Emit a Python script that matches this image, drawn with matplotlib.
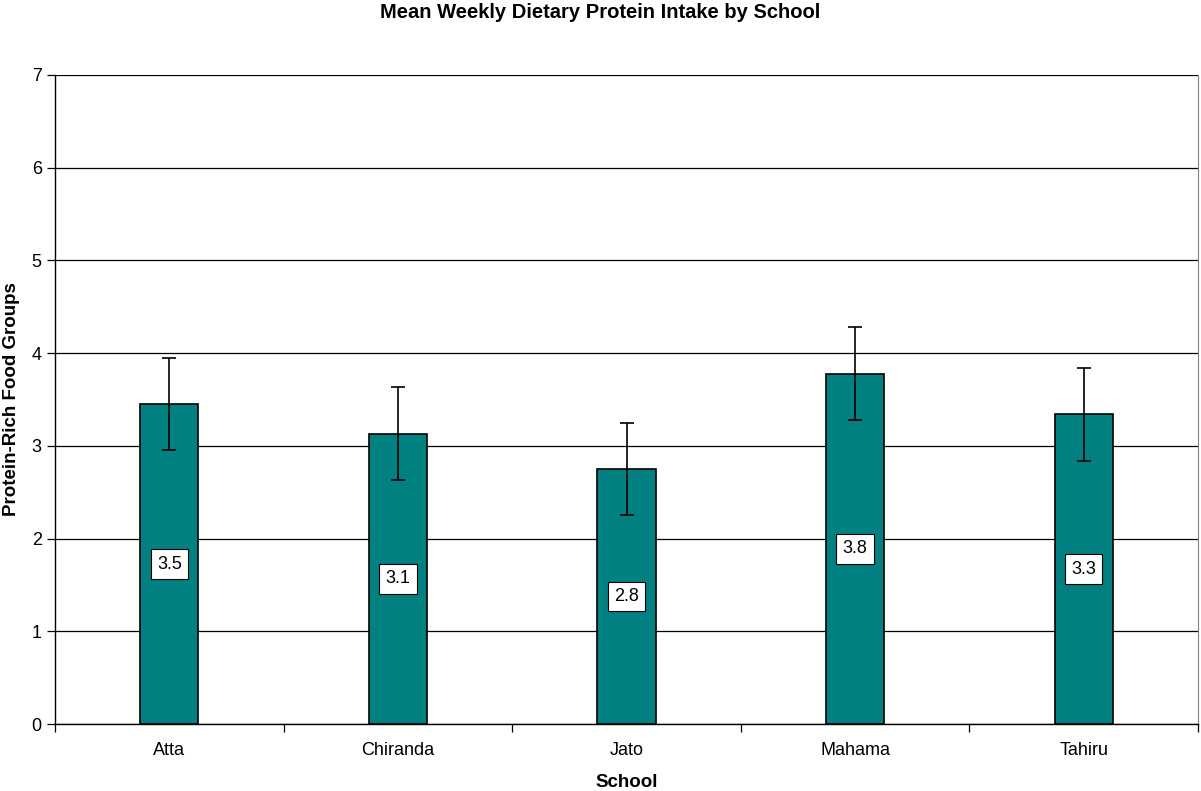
import numpy as np
import matplotlib.pyplot as plt

schools = ['Atta', 'Chiranda', 'Jato', 'Mahama', 'Tahiru']
means = [3.45, 3.13, 2.75, 3.78, 3.34]
errors = [0.5, 0.5, 0.5, 0.5, 0.5]
labels = ['3.5', '3.1', '2.8', '3.8', '3.3']

plt.rcParams['font.family'] = ['Liberation Sans', 'DejaVu Sans']

fig = plt.figure(figsize=(12.01, 7.91), dpi=100)
ax = fig.add_axes([0.0458, 0.0847, 0.9517, 0.8205])

x = np.arange(len(schools))
ax.bar(x, means, width=0.255, color='#008080', edgecolor='black', linewidth=1.2, zorder=3)
ax.errorbar(x, means, yerr=errors, fmt='none', ecolor='black', elinewidth=1.2,
            capsize=5, capthick=1.2, zorder=4)

# value labels in the middle of each bar
for xi, m, lab in zip(x, means, labels):
    ax.text(xi, m / 2, lab, ha='center', va='center', fontsize=13, zorder=5,
            bbox=dict(boxstyle='square,pad=0.35', fc='white', ec='black', lw=0.8))

ax.set_xlim(-0.5, len(schools) - 0.5)
ax.set_ylim(0, 7)
ax.set_yticks(range(0, 8))
ax.yaxis.grid(True, color='black', linewidth=0.9, zorder=0)
ax.set_axisbelow(True)

ax.set_xticks(x)
ax.set_xticklabels(schools, fontsize=13)
ax.set_xticks(np.arange(-0.5, len(schools)), minor=True)
ax.tick_params(axis='x', which='major', length=0, pad=13)
ax.tick_params(axis='x', which='minor', length=6, direction='out', width=0.9)
ax.tick_params(axis='y', labelsize=13, length=6, direction='out', width=0.9)

ax.spines['top'].set_visible(False)
ax.spines['right'].set_color('#808080')
ax.spines['left'].set_linewidth(1.0)
ax.spines['bottom'].set_linewidth(1.0)

ax.set_xlabel('School', fontsize=13.5, fontweight='bold', labelpad=11)
ax.set_ylabel('Protein-Rich Food Groups', fontsize=13.5, fontweight='bold', va='center')
ax.yaxis.set_label_coords(-0.038, 0.5)
fig.suptitle('Mean Weekly Dietary Protein Intake by School', fontsize=14.5,
             fontweight='bold', y=1 - 13 / 791, va='center')

fig.savefig('out.png', dpi=100)
